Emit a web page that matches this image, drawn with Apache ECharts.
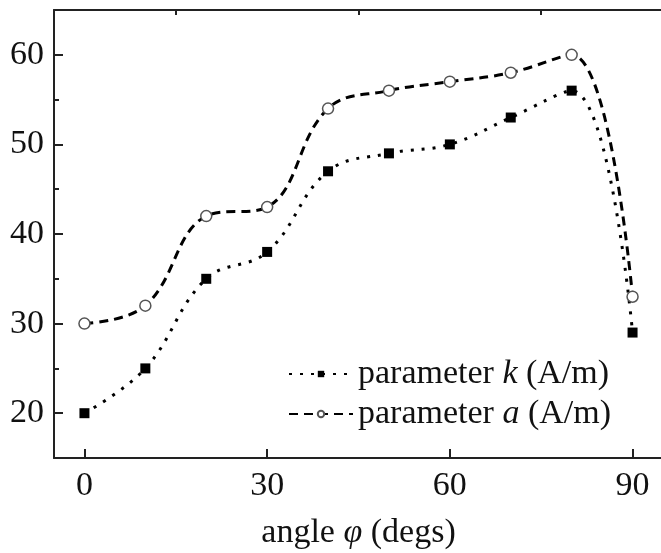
<!DOCTYPE html>
<html>
<head>
<meta charset="utf-8">
<script src="https://cdn.jsdelivr.net/npm/echarts@6/dist/echarts.min.js"></script>
<style>
    html, body { margin: 0; padding: 0; background: #fff; }
    #chart { width: 661px; height: 553px; }
</style>
</head>
<body>
<div id="chart"></div>
<script>
// angle phi (degs)
const angles = [0, 10, 20, 30, 40, 50, 60, 70, 80, 90];
// parameter k (A/m)
const paramK = [20, 25, 35, 38, 47, 49, 50, 53, 56, 29];
// parameter a (A/m)
const paramA = [30, 32, 42, 43, 54, 56, 57, 58, 60, 33];

const xTicks = [0, 30, 60, 90];
const xMinorTicks = [15, 45, 75];
const yTicks = [20, 30, 40, 50, 60];
const yMinorTicks = [25, 35, 45, 55];

const FONT = 'Liberation Serif';
const INK = '#111';
const AXIS = '#222';

const chart = echarts.init(document.getElementById('chart'));

function pairs(ys) {
    return angles.map((x, i) => [x, ys[i]]);
}

const richText = {
    n: { fontFamily: FONT, fontSize: 34, color: INK },
    i: { fontFamily: FONT, fontSize: 34, color: INK, fontStyle: 'italic' }
};

const baseX = {
    type: 'value',
    min: -5,
    max: 95,
    splitLine: { show: false }
};
const baseY = {
    type: 'value',
    min: 15,
    max: 65,
    splitLine: { show: false }
};

chart.setOption({
    backgroundColor: '#fff',
    animation: false,
    grid: {
        left: 54,
        top: 10,
        width: 609,
        height: 448,
        outerBoundsMode: 'none'
    },
    legend: {
        orient: 'vertical',
        left: 283,
        top: 352,
        itemWidth: 64,
        itemHeight: 8,
        itemGap: 6,
        data: ['k', 'a'],
        formatter: name => '{n|parameter }{i|' + name + '}{n| (A/m)}',
        textStyle: {
            color: INK,
            fontFamily: FONT,
            fontSize: 34,
            rich: richText
        }
    },
    xAxis: [
        Object.assign({}, baseX, {
            name: '{n|angle }{i|φ}{n| (degs)}',
            nameLocation: 'middle',
            nameGap: 58,
            nameTextStyle: { rich: richText },
            axisLine: { onZero: false, lineStyle: { color: AXIS, width: 2 } },
            axisTick: {
                inside: true,
                length: 9,
                customValues: xTicks,
                lineStyle: { color: AXIS, width: 2 }
            },
            axisLabel: {
                customValues: xTicks,
                margin: 11,
                color: INK,
                fontFamily: FONT,
                fontSize: 34
            }
        }),
        Object.assign({}, baseX, {
            axisLine: { show: false },
            axisTick: {
                inside: true,
                length: 5,
                customValues: xMinorTicks,
                lineStyle: { color: AXIS, width: 2 }
            },
            axisLabel: { show: false }
        }),
        Object.assign({}, baseX, {
            position: 'top',
            axisLine: { onZero: false, lineStyle: { color: AXIS, width: 2 } },
            axisTick: { show: false },
            axisLabel: { show: false }
        })
    ],
    yAxis: [
        Object.assign({}, baseY, {
            axisLine: { show: true, onZero: false, lineStyle: { color: AXIS, width: 2 } },
            axisTick: {
                show: true,
                inside: true,
                length: 9,
                customValues: yTicks,
                lineStyle: { color: AXIS, width: 2 }
            },
            axisLabel: {
                customValues: yTicks,
                margin: 10,
                color: INK,
                fontFamily: FONT,
                fontSize: 34
            }
        }),
        Object.assign({}, baseY, {
            position: 'left',
            axisLine: { show: false, onZero: false },
            axisTick: {
                show: true,
                inside: true,
                length: 5,
                customValues: yMinorTicks,
                lineStyle: { color: AXIS, width: 2 }
            },
            axisLabel: { show: false }
        })
    ],
    series: [
        {
            name: 'k',
            type: 'line',
            data: pairs(paramK),
            smooth: 0.4,
            symbol: 'rect',
            symbolSize: 10,
            itemStyle: { color: '#000', borderWidth: 0 },
            lineStyle: { color: '#000', width: 3, type: [3, 8] },
            z: 3
        },
        {
            name: 'a',
            type: 'line',
            data: pairs(paramA),
            smooth: 0.4,
            symbol: 'circle',
            symbolSize: 11,
            itemStyle: { color: '#fff', borderColor: '#555', borderWidth: 1.5 },
            lineStyle: { color: '#000', width: 3, type: [9, 6] },
            z: 3
        }
    ]
});
</script>
</body>
</html>
